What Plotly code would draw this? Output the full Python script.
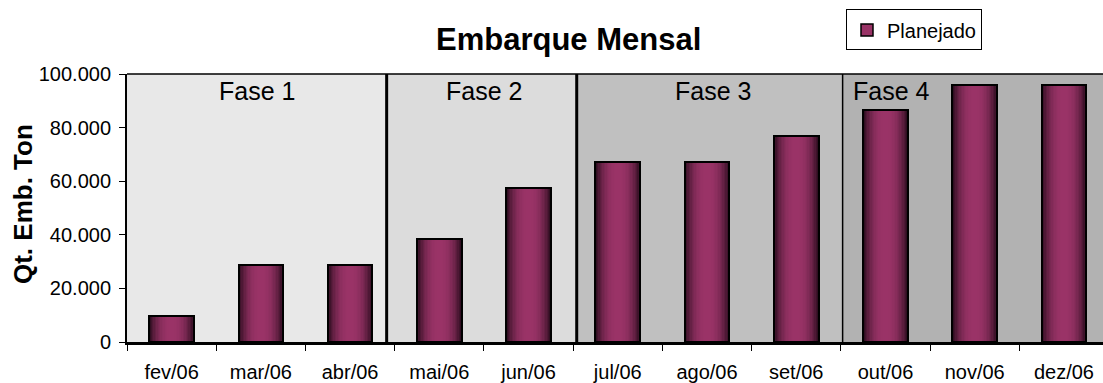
import plotly.graph_objects as go

# ---- data ----
months = ["fev/06", "mar/06", "abr/06", "mai/06", "jun/06", "jul/06",
          "ago/06", "set/06", "out/06", "nov/06", "dez/06"]
planejado = [9600, 28800, 28800, 38400, 57600, 67200, 67200, 76800, 86400, 96000, 96000]

phase_names = ["Fase 1", "Fase 2", "Fase 3", "Fase 4"]
phase_start = [-0.5, 2.41, 4.54, 7.52]
phase_end = [2.41, 4.54, 7.52, 10.6]
phase_colors = ["#E8E8E8", "#DCDCDC", "#C0C0C0", "#B2B2B2"]

# ---- geometry helpers (pixel -> paper) ----
W, H = 1103, 383
L, R, T, B = 127, 0, 74, 39
PW, PH = W - L - R, H - T - B


def px_x(px):
    return (px - L) / PW


def px_y(py):
    return (H - B - py) / PH


fig = go.Figure()

# cylinder-like gradient via overlaid bars of decreasing width
dark = (48, 14, 33)
bright = (155, 52, 104)
N = 16
for i in range(N):
    r = 1 - i / N
    f = 1 - r ** 2.5
    col = tuple(int(dark[k] + (bright[k] - dark[k]) * f) for k in range(3))
    fig.add_trace(go.Bar(
        x=months, y=planejado, width=0.5 * r,
        marker=dict(color="rgb(%d,%d,%d)" % col, line=dict(width=0)),
        showlegend=False, hoverinfo="skip"))

# outline
fig.add_trace(go.Bar(
    x=months, y=planejado, width=0.5,
    marker=dict(color="rgba(0,0,0,0)", line=dict(color="black", width=2)),
    showlegend=False, name="Planejado"))

# legend entry
fig.add_trace(go.Bar(
    x=months, y=[None] * len(months), name="Planejado",
    marker=dict(color="#993366", line=dict(color="black", width=1.5)),
    showlegend=True))

shapes = []
for s, e, c in zip(phase_start, phase_end, phase_colors):
    shapes.append(dict(type="rect", xref="x", yref="paper", x0=s, x1=e, y0=0, y1=1,
                       fillcolor=c, line=dict(width=0), layer="below"))
for xb, lw in zip(phase_start[1:], [3, 3, 1.5]):
    shapes.append(dict(type="line", xref="x", yref="paper", x0=xb, x1=xb, y0=0, y1=1,
                       line=dict(color="black", width=lw), layer="above"))
shapes.append(dict(type="line", xref="paper", yref="paper", x0=0, x1=1, y0=1, y1=1,
                   line=dict(color="black", width=1.5)))

annotations = [
    dict(text="<b>Embarque Mensal</b>", xref="paper", yref="paper",
         x=px_x(568), y=px_y(39), xanchor="center", yanchor="middle",
         showarrow=False, font=dict(size=31, color="black")),
    dict(text="<b>Qt. Emb. Ton</b>", xref="paper", yref="paper",
         x=px_x(23), y=px_y(205), xanchor="center", yanchor="middle",
         textangle=-90, showarrow=False, font=dict(size=26, color="black")),
]
phase_label_x = [257, 484, 713, 851]
for name, px, anc in zip(phase_names, phase_label_x, ["center", "center", "center", "left"]):
    annotations.append(dict(text=name, xref="paper", yref="paper",
                            x=px_x(px), y=px_y(91), xanchor=anc, yanchor="middle",
                            showarrow=False, font=dict(size=25, color="black")))

fig.update_layout(
    width=W, height=H,
    margin=dict(l=L, r=R, t=T, b=B, pad=0),
    paper_bgcolor="white", plot_bgcolor="white",
    font=dict(family="Liberation Sans, Arial, sans-serif", color="black"),
    barmode="overlay", bargap=0,
    separators=",.",
    shapes=shapes, annotations=annotations,
    legend=dict(x=px_x(846), y=px_y(9), xanchor="left", yanchor="top",
                bordercolor="black", borderwidth=1, bgcolor="white",
                font=dict(size=20), itemwidth=30),
    xaxis=dict(type="category", range=[-0.5, -0.5 + (W - L) / 89.23],
               showgrid=False, zeroline=False, showline=True, linecolor="black",
               linewidth=2.5, ticks="outside", ticklen=6, tickcolor="black",
               tickwidth=1, tickson="boundaries", tickfont=dict(size=20),
               ticklabelstandoff=10),
    yaxis=dict(range=[0, 100000], tickvals=[0, 20000, 40000, 60000, 80000, 100000],
               tickformat=",d", showgrid=False, zeroline=False, showline=True,
               linecolor="black", linewidth=2, ticks="outside", ticklen=6,
               tickcolor="black", tickwidth=1, tickfont=dict(size=20),
               ticklabelstandoff=4),
)

fig.write_html("out.html", config={"displayModeBar": False},
               post_script="document.body.style.margin='0';document.body.style.overflow='hidden';")
